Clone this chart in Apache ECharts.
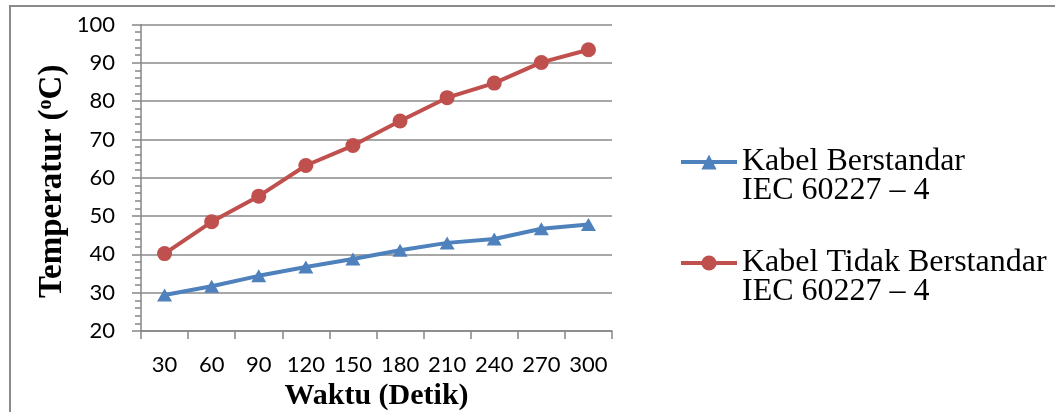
<!DOCTYPE html>
<html>
<head>
<meta charset="utf-8">
<script src="https://cdn.jsdelivr.net/npm/echarts@6/dist/echarts.min.js"></script>
<style>
  html, body { margin: 0; padding: 0; background: #ffffff; }
  #chart { width: 1055px; height: 412px; }
</style>
</head>
<body>
<div id="chart"></div>
<script>
// Time in seconds (x axis categories)
const waktu = ['30', '60', '90', '120', '150', '180', '210', '240', '270', '300'];
// Temperature readings (°C)
const kabelBerstandar = [29.4, 31.7, 34.4, 36.7, 38.8, 41.1, 43.0, 44.0, 46.7, 47.8];
const kabelTidakBerstandar = [40.2, 48.5, 55.2, 63.2, 68.4, 74.8, 80.9, 84.7, 90.1, 93.4];
const seriesNames = ['Kabel Berstandar\nIEC 60227 \u2013 4', 'Kabel Tidak Berstandar\nIEC 60227 \u2013 4'];

const axisGrey = '#868686';
const tickFont = { fontFamily: 'Lato', fontSize: 22, color: '#000000' };

const chart = echarts.init(document.getElementById('chart'), null, { renderer: 'canvas' });

chart.setOption({
  animation: false,
  backgroundColor: '#ffffff',
  graphic: [{
    type: 'rect',
    shape: { x: 10, y: 6, width: 1100, height: 500 },
    style: { fill: 'none', stroke: '#8a8a8a', lineWidth: 2 },
    silent: true
  }],
  grid: {
    left: 141, top: 24.5, right: 443, bottom: 81,
    containLabel: false,
    outerBoundsMode: 'none'
  },
  legend: {
    orient: 'vertical',
    left: 674,
    top: 112,
    itemGap: 11,
    itemWidth: 56,
    itemHeight: 19,
    data: seriesNames,
    // leading blank line keeps the first text line level with the legend marker
    formatter: function (name) { return '\n' + name; },
    lineStyle: { width: 4 },
    textStyle: {
      fontFamily: 'Liberation Serif',
      fontSize: 32,
      lineHeight: 29,
      color: '#000000'
    }
  },
  xAxis: {
    type: 'category',
    data: waktu,
    boundaryGap: true,
    name: 'Waktu (Detik)',
    nameLocation: 'middle',
    nameGap: 48,
    nameTextStyle: { fontFamily: 'Liberation Serif', fontWeight: 'bold', fontSize: 30, color: '#000000' },
    axisLine: { show: true, lineStyle: { color: axisGrey, width: 1.5 } },
    axisTick: { show: true, length: 8, lineStyle: { color: axisGrey, width: 1.5 } },
    axisLabel: Object.assign({ margin: 23, interval: 0 }, tickFont),
    splitLine: { show: false }
  },
  yAxis: {
    type: 'value',
    min: 20,
    max: 100,
    interval: 10,
    name: '{t|Temperatur (}{s|o}{t|C)}',
    nameLocation: 'middle',
    nameGap: 72,
    nameRotate: 90,
    nameTextStyle: {
      padding: [0, 7, 0, 0],
      rich: {
        t: { fontFamily: 'Liberation Serif', fontWeight: 'bold', fontSize: 33, color: '#000000' },
        s: { fontFamily: 'Liberation Serif', fontWeight: 'bold', fontSize: 20, color: '#000000', verticalAlign: 'top', padding: [0, 0, 12, 0] }
      }
    },
    axisLine: { show: true, lineStyle: { color: axisGrey, width: 1.5 } },
    axisTick: { show: true, length: 9, lineStyle: { color: axisGrey, width: 1.5 } },
    minorTick: { show: true, splitNumber: 5, length: 6, lineStyle: { color: axisGrey, width: 1.5 } },
    axisLabel: Object.assign({ margin: 26 }, tickFont),
    splitLine: { show: true, lineStyle: { color: '#8a8a8a', width: 1.5 } }
  },
  series: [
    {
      name: seriesNames[0],
      type: 'line',
      data: kabelBerstandar,
      symbol: 'triangle',
      symbolSize: [15, 13],
      lineStyle: { color: '#4F81BD', width: 4 },
      itemStyle: { color: '#4F81BD' }
    },
    {
      name: seriesNames[1],
      type: 'line',
      data: kabelTidakBerstandar,
      symbol: 'circle',
      symbolSize: 15,
      lineStyle: { color: '#C0504D', width: 4 },
      itemStyle: { color: '#C0504D' }
    }
  ]
});
</script>
</body>
</html>
